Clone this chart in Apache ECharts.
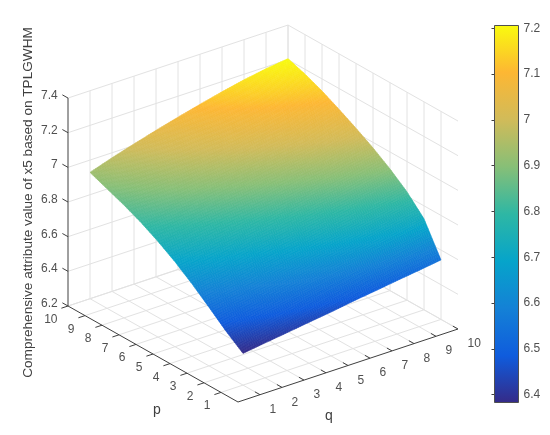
<!DOCTYPE html>
<html>
<head>
<meta charset="utf-8">
<title>Comprehensive attribute value of x5</title>
<script src="https://cdn.jsdelivr.net/npm/echarts@6/dist/echarts.min.js"></script>
<style>
    html, body {margin: 0; padding: 0; background: #fff;}
    #chart {width: 550px; height: 435px;}
</style>
</head>
<body>
<div id="chart"></div>
<script>
var pValues = [1, 2, 3, 4, 5, 6, 7, 8, 9, 10];
var qValues = [1, 2, 3, 4, 5, 6, 7, 8, 9, 10];
var zTicks = [6.2, 6.4, 6.6, 6.8, 7, 7.2, 7.4];
var barTicks = [6.4, 6.5, 6.6, 6.7, 6.8, 6.9, 7, 7.1, 7.2];
var zMin = 6.383;
var zMax = 7.206;

// one row per p, one column per q
var zP1 = [6.383, 6.401, 6.418, 6.436, 6.453, 6.473, 6.490, 6.508, 6.525, 6.543];
var zP2 = [6.456, 6.487, 6.518, 6.547, 6.577, 6.609, 6.639, 6.669, 6.697, 6.725];
var zP3 = [6.538, 6.572, 6.607, 6.638, 6.673, 6.704, 6.736, 6.768, 6.796, 6.825];
var zP4 = [6.618, 6.654, 6.688, 6.720, 6.754, 6.786, 6.817, 6.848, 6.875, 6.902];
var zP5 = [6.690, 6.726, 6.760, 6.793, 6.826, 6.857, 6.887, 6.918, 6.943, 6.968];
var zP6 = [6.752, 6.789, 6.823, 6.856, 6.889, 6.919, 6.949, 6.979, 7.003, 7.026];
var zP7 = [6.806, 6.844, 6.880, 6.913, 6.946, 6.976, 7.006, 7.036, 7.058, 7.080];
var zP8 = [6.851, 6.891, 6.928, 6.963, 6.996, 7.030, 7.060, 7.088, 7.110, 7.130];
var zP9 = [6.890, 6.932, 6.969, 7.006, 7.039, 7.073, 7.104, 7.133, 7.154, 7.172];
var zP10 = [6.929, 6.971, 7.009, 7.045, 7.079, 7.111, 7.141, 7.168, 7.190, 7.206];
var zRows = [zP1, zP2, zP3, zP4, zP5, zP6, zP7, zP8, zP9, zP10];

var parula = ['#352a87', '#0f5cdd', '#1481d6', '#06a4ca', '#2eb7a4', '#87bf77', '#d1bb59', '#fdb733', '#f9fb0e'];

var fontName = '"Liberation Sans", Arial, sans-serif';
var textColor = '#505050';
var axisColor = '#404040';
var gridColor = '#e2e2e2';

// fixed view of the 3d box, the picture is an orthographic projection
function project(p, q, z) {
    return [238 + 22 * q - 17 * p, 402 - 7.3 * q - 9.6 * p - 173.3 * (z - 6.2)];
}

function hexToRgb(hex) {
    return [parseInt(hex.substr(1, 2), 16), parseInt(hex.substr(3, 2), 16), parseInt(hex.substr(5, 2), 16)];
}

function zColor(z) {
    var t = (z - zMin) / (zMax - zMin) * (parula.length - 1);
    t = Math.max(0, Math.min(parula.length - 1.001, t));
    var i = Math.floor(t);
    var a = hexToRgb(parula[i]);
    var b = hexToRgb(parula[i + 1]);
    var f = t - i;
    return 'rgb(' + Math.round(a[0] + (b[0] - a[0]) * f) + ',' + Math.round(a[1] + (b[1] - a[1]) * f) + ',' + Math.round(a[2] + (b[2] - a[2]) * f) + ')';
}

//----------------------------------------------------------------------
// box lines and labels
var gridSegs = [];
var axisSegs = [];
var zLow = zTicks[0];
var zHigh = zTicks[zTicks.length - 1];

for (var i = 0; i < qValues.length; i = i + 1) {
    var q = qValues[i];
    gridSegs.push([10, q, zLow, 0, q, zLow]);
    gridSegs.push([10, q, zLow, 10, q, zHigh]);
    axisSegs.push([0, q, zLow, 0.3, q, zLow]);
}
for (var i = 0; i < pValues.length; i = i + 1) {
    var p = pValues[i];
    gridSegs.push([p, 10, zLow, p, 0, zLow]);
    gridSegs.push([p, 10, zLow, p, 10, zHigh]);
    axisSegs.push([p, 0, zLow, p, -0.3, zLow]);
}
for (var i = 0; i < zTicks.length; i = i + 1) {
    var z = zTicks[i];
    gridSegs.push([10, 0, z, 10, 10, z]);
    gridSegs.push([10, 10, z, 0, 10, z]);
    axisSegs.push([10, 0, z, 10.33, 0, z]);
}
axisSegs.push([10, 0, zLow, 10, 0, zHigh]);
axisSegs.push([10, 0, zLow, 0, 0, zLow]);
axisSegs.push([0, 0, zLow, 0, 10, zLow]);

var cells = [];
for (var i = 0; i < pValues.length - 1; i = i + 1) {
    for (var j = 0; j < qValues.length - 1; j = j + 1) {
        cells.push([i, j]);
    }
}

function renderSegs(segs, color) {
    return function (params, api) {
        var s = segs[params.dataIndex];
        var a = api.coord(project(s[0], s[1], s[2]));
        var b = api.coord(project(s[3], s[4], s[5]));
        return {
            type: 'line',
            shape: {x1: a[0], y1: a[1], x2: b[0], y2: b[1]},
            style: {stroke: color, lineWidth: 1, fill: null}
        };
    };
}

function renderCell(params, api) {
    var c = cells[params.dataIndex];
    var i = c[0];
    var j = c[1];
    var steps = 12;
    var children = [];
    // corner of a sub-quad inside one data cell, drawing detail only
    function corner(u, v) {
        var p = pValues[i] + (pValues[i + 1] - pValues[i]) * u;
        var q = qValues[j] + (qValues[j + 1] - qValues[j]) * v;
        var z = zRows[i][j] * (1 - u) * (1 - v) + zRows[i + 1][j] * u * (1 - v) + zRows[i][j + 1] * (1 - u) * v + zRows[i + 1][j + 1] * u * v;
        return {xy: api.coord(project(p, q, z)), z: z};
    }
    for (var a = 0; a < steps; a = a + 1) {
        for (var b = 0; b < steps; b = b + 1) {
            var c1 = corner(a / steps, b / steps);
            var c2 = corner((a + 1) / steps, b / steps);
            var c3 = corner((a + 1) / steps, (b + 1) / steps);
            var c4 = corner(a / steps, (b + 1) / steps);
            var color = zColor((c1.z + c2.z + c3.z + c4.z) / 4);
            children.push({
                type: 'polygon',
                shape: {points: [c1.xy, c2.xy, c3.xy, c4.xy]},
                style: {fill: color, stroke: color, lineWidth: 0.6}
            });
        }
    }
    return {type: 'group', children: children};
}

function tickText(x, y, text, align) {
    return {
        type: 'text',
        style: {x: x, y: y, text: text, fill: textColor, fontSize: 12, fontFamily: fontName, align: align, verticalAlign: 'middle'}
    };
}

function renderLabels(params, api) {
    var children = [];
    for (var i = 0; i < pValues.length; i = i + 1) {
        var a = api.coord(project(pValues[i], 0, zLow));
        children.push(tickText(a[0] - 10.5, a[1] + 13.6, String(pValues[i]), 'right'));
    }
    for (var i = 0; i < qValues.length; i = i + 1) {
        var b = api.coord(project(0, qValues[i], zLow));
        children.push(tickText(b[0] + 9.5, b[1] + 14.8, String(qValues[i]), 'left'));
    }
    for (var i = 0; i < zTicks.length; i = i + 1) {
        var c = api.coord(project(10, 0, zTicks[i]));
        children.push(tickText(c[0] - 10.3, c[1] - 2.3, String(zTicks[i]), 'right'));
    }
    children.push({type: 'text', style: {x: 157, y: 410, text: 'p', fill: axisColor, fontSize: 14, fontFamily: fontName, align: 'center', verticalAlign: 'middle'}});
    children.push({type: 'text', style: {x: 329, y: 416, text: 'q', fill: axisColor, fontSize: 14, fontFamily: fontName, align: 'center', verticalAlign: 'middle'}});
    children.push({
        type: 'text',
        x: 28.5,
        y: 202.5,
        rotation: Math.PI / 2,
        style: {x: 0, y: 0, text: 'Comprehensive attribute value of x5 based on TPLGWHM', fill: axisColor, fontSize: 13.6, fontFamily: fontName, align: 'center', verticalAlign: 'middle'}
    });
    return {type: 'group', children: children};
}

function renderBar(params, api) {
    var a = api.coord([0, zMax]);
    var b = api.coord([1, zMin]);
    var stops = [];
    for (var i = 0; i < parula.length; i = i + 1) {
        stops.push({offset: i / (parula.length - 1), color: parula[parula.length - 1 - i]});
    }
    return {
        type: 'rect',
        shape: {x: a[0], y: a[1], width: b[0] - a[0], height: b[1] - a[1]},
        style: {fill: new echarts.graphic.LinearGradient(0, 0, 0, 1, stops), stroke: '#505050', lineWidth: 1}
    };
}

function indexList(list) {
    var out = [];
    for (var i = 0; i < list.length; i = i + 1) {
        out.push([i, i]);
    }
    return out;
}

var chart = echarts.init(document.getElementById('chart'));
chart.setOption({
    animation: false,
    backgroundColor: '#fff',
    textStyle: {fontFamily: fontName},
    grid: [
        {left: 0, top: 0, width: 550, height: 435},
        {left: 494.5, top: 25.5, width: 24, height: 377}
    ],
    xAxis: [
        {type: 'value', min: 0, max: 550, show: false},
        {type: 'value', min: 0, max: 1, gridIndex: 1, show: false}
    ],
    yAxis: [
        {type: 'value', min: 0, max: 435, inverse: true, show: false},
        {
            type: 'value',
            min: zMin,
            max: zMax,
            gridIndex: 1,
            position: 'right',
            splitLine: {show: false},
            axisLine: {show: false},
            axisTick: {show: true, inside: true, length: 3, customValues: barTicks, lineStyle: {color: '#404040'}},
            axisLabel: {show: true, margin: 5, customValues: barTicks, color: textColor, fontSize: 12, fontFamily: fontName, showMinLabel: true, showMaxLabel: true}
        }
    ],
    series: [
        {type: 'custom', name: 'grid', silent: true, clip: false, data: indexList(gridSegs), renderItem: renderSegs(gridSegs, gridColor), z: 1},
        {type: 'custom', name: 'axes', silent: true, clip: false, data: indexList(axisSegs), renderItem: renderSegs(axisSegs, axisColor), z: 2},
        {type: 'custom', name: 'surface', silent: true, clip: false, data: indexList(cells), renderItem: renderCell, z: 3},
        {type: 'custom', name: 'labels', silent: true, clip: false, data: [[0, 0]], renderItem: renderLabels, z: 4},
        {type: 'custom', name: 'colorbar', silent: true, clip: false, xAxisIndex: 1, yAxisIndex: 1, data: [[0, zMin]], renderItem: renderBar, z: 1}
    ]
});
</script>
</body>
</html>
